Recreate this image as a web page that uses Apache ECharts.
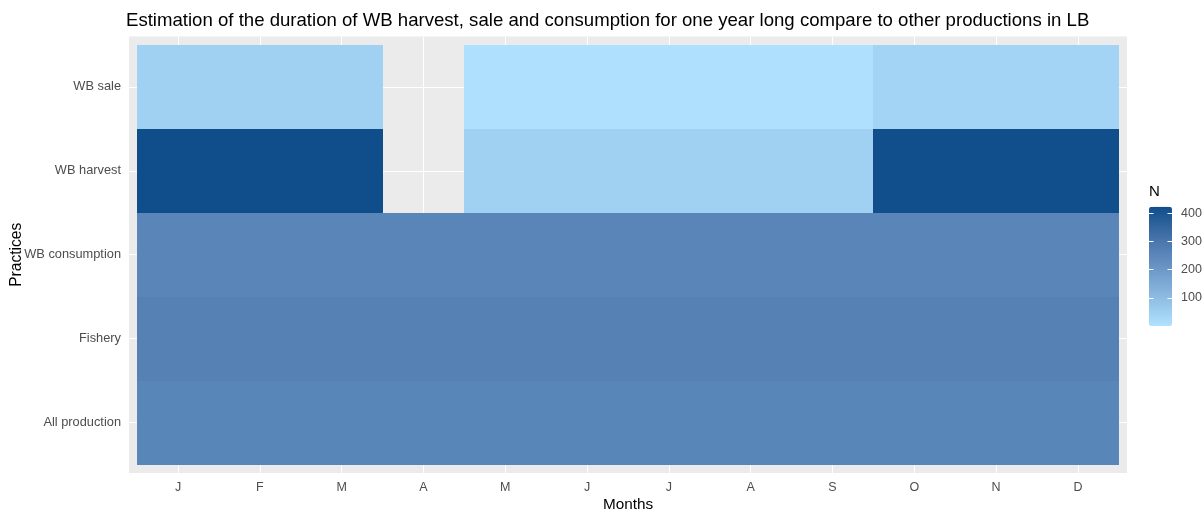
<!DOCTYPE html>
<html><head><meta charset="utf-8">
<script src="https://cdn.jsdelivr.net/npm/echarts@6/dist/echarts.min.js"></script>
<style>html,body{margin:0;padding:0;background:#fff}#c{width:1203px;height:516px}</style>
</head><body><div id="c"></div>
<script>
// ---- data ----
const months = ['J','F','M','A','M','J','J','A','S','O','N','D'];
const practices = ['All production','Fishery','WB consumption','WB harvest','WB sale'];
const allProduction = [254,254,254,254,254,254,254,254,254,254,254,254];
const fishery       = [266,266,266,266,266,266,266,266,266,266,266,266];
const wbConsumption = [255,255,255,255,255,255,255,255,255,255,255,255];
const wbHarvest     = [423,423,423,null,46,46,46,46,46,420,420,420];
const wbSale        = [46,46,46,null,2,2,2,2,2,36,36,36];
const legendTicks   = [100,200,300,400];
const scaleMin = 0, scaleMax = 423;

const rows = [allProduction, fishery, wbConsumption, wbHarvest, wbSale];
const heat = [];
rows.forEach((r, yi) => r.forEach((v, xi) => { if (v !== null) heat.push([xi, yi, v]); }));

const FONT = '"Liberation Sans", Arial, sans-serif';
const gradient = ['#B0E2FF','#8CBAE1','#6894C4','#4370A7','#104E8B'];

// panel geometry
const P = {l:129, r:1127, t:36.5, b:473};
const padX = (P.r - P.l) / 12.2 * 0.1, padY = (P.b - P.t) / 5.2 * 0.1;

const chart = echarts.init(document.getElementById('c'), null, {renderer:'canvas'});
chart.setOption({
  animation: false,
  textStyle: {fontFamily: FONT},
  title: [
    {text: 'Estimation of the duration of WB harvest, sale and consumption for one year long compare to other productions in LB',
     left: 126, top: 11, padding: 0,
     textStyle: {fontFamily: FONT, fontSize: 18.6, fontWeight: 'normal', color: '#000'}},
    {text: 'N', left: 1149, top: 184, padding: 0,
     textStyle: {fontFamily: FONT, fontSize: 15, fontWeight: 'normal', color: '#000'}}
  ],
  grid: [
    {left: P.l + padX, right: 1203 - P.r + padX, top: P.t + padY, bottom: 516 - P.b + padY, containLabel: false, outerBoundsMode: 'none'},
    {left: P.l, right: 1203 - P.r, top: P.t, bottom: 516 - P.b, show: true, backgroundColor: '#EBEBEB', borderWidth: 0, containLabel: false, outerBoundsMode: 'none'},
    {left: 1149, top: 206.7, width: 23, height: 119.3, containLabel: false, outerBoundsMode: 'none'}
  ],
  xAxis: [
    {type: 'category', gridIndex: 0, data: months, offset: padY,
     axisLine: {show: false},
     axisTick: {alignWithLabel: true, length: 4, lineStyle: {color: '#333', width: 1}},
     axisLabel: {color: '#4D4D4D', fontSize: 12.5, margin: 8, fontFamily: FONT},
     splitLine: {show: false},
     name: 'Months', nameLocation: 'middle', nameGap: 24, nameMoveOverlap: false,
     nameTextStyle: {color: '#000', fontSize: 15.3, fontFamily: FONT}},
    {type: 'value', gridIndex: 1, min: 0.4, max: 12.6, minInterval: 1, maxInterval: 1,
     axisLine: {show: false}, axisTick: {show: false}, axisLabel: {show: false},
     splitLine: {show: true, showMinLine: false, showMaxLine: false, lineStyle: {color: '#fff', width: 1}}},
    {type: 'value', gridIndex: 2, show: false}
  ],
  yAxis: [
    {type: 'category', gridIndex: 0, data: practices, offset: padX,
     axisLine: {show: false},
     axisTick: {alignWithLabel: true, length: 4, lineStyle: {color: '#333', width: 1}},
     axisLabel: {color: '#4D4D4D', fontSize: 12.8, margin: 8, fontFamily: FONT},
     splitLine: {show: false},
     name: 'Practices', nameLocation: 'middle', nameGap: 104, nameRotate: 90, nameMoveOverlap: false,
     nameTextStyle: {color: '#000', fontSize: 15.6, fontFamily: FONT}},
    {type: 'value', gridIndex: 1, min: 0.4, max: 5.6, minInterval: 1, maxInterval: 1,
     axisLine: {show: false}, axisTick: {show: false}, axisLabel: {show: false},
     splitLine: {show: true, showMinLine: false, showMaxLine: false, lineStyle: {color: '#fff', width: 1}}},
    {type: 'value', gridIndex: 2, position: 'left', min: scaleMin, max: scaleMax, interval: 100, z: 10,
     axisLine: {show: false}, axisTick: {show: true, inside: true, length: 4.5, lineStyle: {color: '#fff', width: 1}},
     axisLabel: {show: false}, splitLine: {show: false}},
    {type: 'value', gridIndex: 2, position: 'right', min: scaleMin, max: scaleMax, interval: 100, z: 10,
     axisLine: {show: false}, axisTick: {show: true, inside: true, length: 4.5, lineStyle: {color: '#fff', width: 1}},
     axisLabel: {show: true, showMinLabel: false, showMaxLabel: false, color: '#4D4D4D', fontSize: 12.5, margin: 9, fontFamily: FONT,
       formatter: v => legendTicks.includes(v) ? String(v) : ''},
     splitLine: {show: false}}
  ],
  visualMap: {
    type: 'continuous', min: scaleMin, max: scaleMax, dimension: 2, seriesIndex: 0,
    orient: 'vertical', left: 1149, top: 206.7, itemWidth: 23, itemHeight: 119.3, padding: 0,
    calculable: false, hoverLink: false, text: null,
    inRange: {color: gradient}
  },
  series: [{
    type: 'custom', coordinateSystem: 'cartesian2d', xAxisIndex: 0, yAxisIndex: 0, data: heat,
    encode: {x: 0, y: 1}, silent: true,
    renderItem: function (params, api) {
      const c = api.coord([api.value(0), api.value(1)]);
      const s = api.size([1, 1]);
      const x0 = Math.round(c[0] - s[0] / 2), x1 = Math.round(c[0] + s[0] / 2);
      const y0 = Math.round(c[1] - s[1] / 2), y1 = Math.round(c[1] + s[1] / 2);
      return {type: 'rect', shape: {x: x0, y: y0, width: x1 - x0, height: y1 - y0},
              style: {fill: api.visual('color')}};
    }
  }]
});
</script></body></html>
